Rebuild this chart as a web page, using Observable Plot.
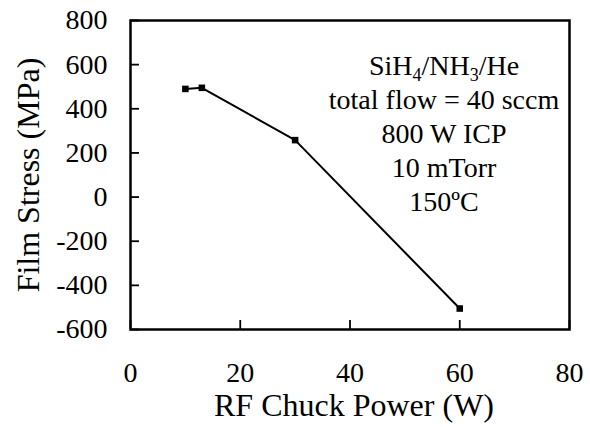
<!DOCTYPE html>
<html><head><meta charset="utf-8">
<script src="https://cdn.jsdelivr.net/npm/d3@7"></script>
<script src="https://cdn.jsdelivr.net/npm/@observablehq/plot@0.6"></script>
<style>body{margin:0;background:#fff;}</style>
</head><body><div id="chart"></div>
<script>
const power = [10, 13, 30, 60];
const stress = [490, 495, 258, -505];
const xTicks = [0, 20, 40, 60, 80];
const yTicks = [-600, -400, -200, 0, 200, 400, 600, 800];
const xLabel = "RF Chuck Power (W)";
const yLabel = "Film Stress (MPa)";
const notes = ["SiH4/NH3/He", "total flow = 40 sccm", "800 W ICP", "10 mTorr", "150ºC"];

const data = power.map((p, i) => ({p, s: stress[i]}));
const W = 590, H = 427, mL = 130, mR = 21, mT = 20, mB = 98;
const fw = W - mL - mR, fh = H - mT - mB;
const font = "'Liberation Serif', 'Times New Roman', serif";

const chart = Plot.plot({
  width: W, height: H,
  marginLeft: mL, marginRight: mR, marginTop: mT, marginBottom: mB,
  style: {fontFamily: font, fontSize: "28px", color: "black", background: "white"},
  x: {domain: [0, 80]},
  y: {domain: [-600, 800]},
  marks: [
    Plot.axisX(xTicks, {tickSize: 0, tickPadding: 33, fontSize: 28, label: null, tickFormat: d => String(d)}),
    Plot.axisY(yTicks, {tickSize: 0, tickPadding: 23, fontSize: 28, label: null, tickFormat: d => String(d)}),
    Plot.ruleX(xTicks, {x: d => d, insetTop: fh - 9, stroke: "black", strokeWidth: 1.8}),
    Plot.ruleY(yTicks, {y: d => d, insetRight: fw - 9, stroke: "black", strokeWidth: 1.8}),
    Plot.frame({stroke: "black", strokeWidth: 2.5}),
    Plot.line(data, {x: "p", y: "s", stroke: "black", strokeWidth: 2}),
    Plot.dot(data, {x: "p", y: "s", symbol: "square", r: 3.7, fill: "black", stroke: "none"}),
    Plot.text([xLabel], {text: d => d, frameAnchor: "bottom", textAnchor: "middle", dy: 86, dx: 4, fontSize: 32}),
    Plot.text([yLabel], {text: d => d, frameAnchor: "left", textAnchor: "middle", rotate: -90, dx: -102, fontSize: 32}),
    Plot.text([notes.join("\n")], {text: d => d, frameAnchor: "top", lineAnchor: "top", lineHeight: 34 / 28, dx: 94, dy: 30, fontSize: 28})
  ]
});

// subscripts for the chemical formula
chart.querySelectorAll("tspan, text").forEach(el => {
  if (el.childElementCount === 0 && el.textContent === notes[0]) {
    const parts = [["SiH", 0], ["4", 6], ["/NH", -6], ["3", 6], ["/He", -6]];
    el.textContent = "";
    parts.forEach(([t, d], i) => {
      const ts = document.createElementNS("http://www.w3.org/2000/svg", "tspan");
      if (d) ts.setAttribute("dy", d);
      if (i === 1 || i === 3) ts.setAttribute("font-size", "18");
      ts.textContent = t;
      el.appendChild(ts);
    });
  }
});
document.getElementById("chart").appendChild(chart);
</script>
</body></html>
